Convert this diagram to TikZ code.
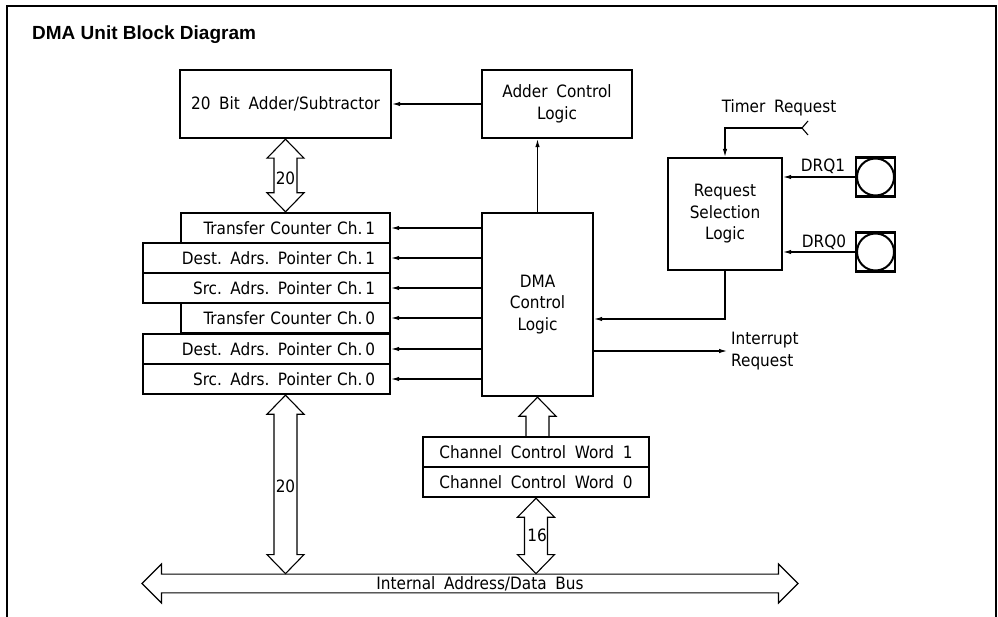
\documentclass[tikz,border=0pt]{standalone}
\usepackage{fontspec}
\setmainfont[WordSpace=1.8]{DejaVu Sans Condensed}
\newfontfamily\titlefont{Liberation Sans}
\usetikzlibrary{arrows.meta,calc,shapes.arrows}

% hollow double-headed bus arrow, from #1 (upper tip) down to #2 (lower tip)
\newcommand\busdouble[2]{%
  \draw[bus] let \p1=(#1), \p2=(#2) in
    (\x1,\y1) -- (\x1+18.5pt,\y1-19pt) -- (\x1+11.5pt,\y1-19pt)
    -- (\x1+11.5pt,\y2+19pt) -- (\x1+18.5pt,\y2+19pt) -- (\x1,\y2)
    -- (\x1-18.5pt,\y2+19pt) -- (\x1-11.5pt,\y2+19pt)
    -- (\x1-11.5pt,\y1-19pt) -- (\x1-18.5pt,\y1-19pt) -- cycle;}
% hollow single-headed bus arrow, shaft starting at #1, tip at #2 (above)
\newcommand\busup[2]{%
  \draw[bus] let \p1=(#1), \p2=(#2) in
    (\x2-11.5pt,\y1) -- (\x2-11.5pt,\y2-19pt) -- (\x2-18.5pt,\y2-19pt)
    -- (\x2,\y2) -- (\x2+18.5pt,\y2-19pt) -- (\x2+11.5pt,\y2-19pt)
    -- (\x2+11.5pt,\y1);}

\begin{document}
\begin{tikzpicture}[x=1pt,y=-1pt,
  every node/.style={font=\fontsize{17}{21.5}\selectfont, text=black},
  blk/.style={draw, line width=2.4pt, inner sep=0pt, align=center},
  reg/.style={draw, line width=2.4pt, minimum height=30pt, inner xsep=15pt,
    inner ysep=0pt, align=right},
  sig/.style={line width=1.1pt, -{Latex[length=8pt,width=4.5pt]}},
  bus/.style={line width=1.1pt, fill=white},
  pad/.style={draw, line width=2.2pt, minimum size=39pt, inner sep=0pt,
    path picture={\draw[line width=2pt]
      (path picture bounding box.center) circle (18.5pt);}},
]
\useasboundingbox (0,0) rectangle (998,617);

% frame and title
\draw[line width=1.6pt] (7,617) -- (7,6) -- (996,6) -- (996,617);
\node[anchor=base west, inner sep=0pt,
  font=\titlefont\bfseries\fontsize{19}{22}\selectfont] (title) at (32,40)
  {DMA Unit Block Diagram};

% main blocks
\node[blk, minimum width=211pt, minimum height=68pt] (adder) at (285.5,104)
  {20 Bit Adder/Subtractor};
\node[blk, minimum width=150pt, minimum height=68pt] (adctl) at (557,104)
  {Adder Control\\Logic};
\node[blk, minimum width=111pt, minimum height=183pt] (dma) at (537.5,304.5)
  {DMA\\Control\\Logic};
\node[blk, minimum width=114pt, minimum height=112pt] (req) at (725,214)
  {Request\\Selection\\Logic};

% channel registers
\node[reg, text width=179pt] (tc1) at (285.5,228) {Transfer Counter Ch.\,1};
\node[reg, text width=217pt] (da1) at (266.5,258) {Dest. Adrs. Pointer Ch.\,1};
\node[reg, text width=217pt] (sa1) at (266.5,288) {Src. Adrs. Pointer Ch.\,1};
\node[reg, text width=179pt] (tc0) at (285.5,318) {Transfer Counter Ch.\,0};
\node[reg, text width=217pt] (da0) at (266.5,349) {Dest. Adrs. Pointer Ch.\,0};
\node[reg, text width=217pt] (sa0) at (266.5,379) {Src. Adrs. Pointer Ch.\,0};

% channel control words
\node[blk, minimum width=226pt, minimum height=30pt] (ccw1) at (536,452)
  {Channel Control Word 1};
\node[blk, minimum width=226pt, minimum height=30pt] (ccw0) at (536,482)
  {Channel Control Word 0};

% request pads
\node[pad] (drq1) at (875.5,177) {};
\node[pad] (drq0) at (875.5,252) {};
\node (drq1l) at (823,166) {DRQ1};
\node (drq0l) at (824,242) {DRQ0};

% internal bus
\node[draw, line width=1.1pt, double arrow, double arrow head extend=8.5pt,
  minimum width=39pt, minimum height=656pt, inner sep=0pt] (ibus) at (470,583.5)
  {\hspace*{20pt}Internal Address/Data Bus};

% control signals
\draw[sig] (adctl.west) -- (adder.east);
\draw[sig] (dma.north) -- (dma.north |- adctl.south);
\foreach \r in {tc1,da1,sa1,tc0,da0,sa0}
  \draw[sig] (dma.west |- \r.east) -- (\r.east);
\draw[sig] (drq1.west) -- (drq1.west -| req.east);
\draw[sig] (drq0.west) -- (drq0.west -| req.east);
\draw[sig] (req.south) |- ($(dma.east)+(0,14.5)$);

% timer request input
\node (tmrl) at (779,108) {Timer Request};
\coordinate (tmr) at (802,128);
\draw[line width=1.1pt] (808,121) -- (tmr) -- (808,135);
\draw[sig] (tmr) -- (req.north |- tmr) -- (req.north);

% interrupt output
\node[anchor=west, align=left, inner xsep=4pt] (irq) at (727,351)
  {Interrupt\\Request};
\draw[sig] (dma.east |- irq.west) -- (irq.west);

% data paths
\busdouble{adder.south}{tc1.north}
\busdouble{tc1.north |- sa0.south}{tc1.north |- ibus.north}
\busdouble{ccw0.south}{ccw0.south |- ibus.north}
\busup{ccw1.north}{dma.south}
\node (w20a) at (285.5,178) {20};
\node (w20b) at (285.5,486) {20};
\node (w16) at (537,535) {16};
\end{tikzpicture}
\end{document}
